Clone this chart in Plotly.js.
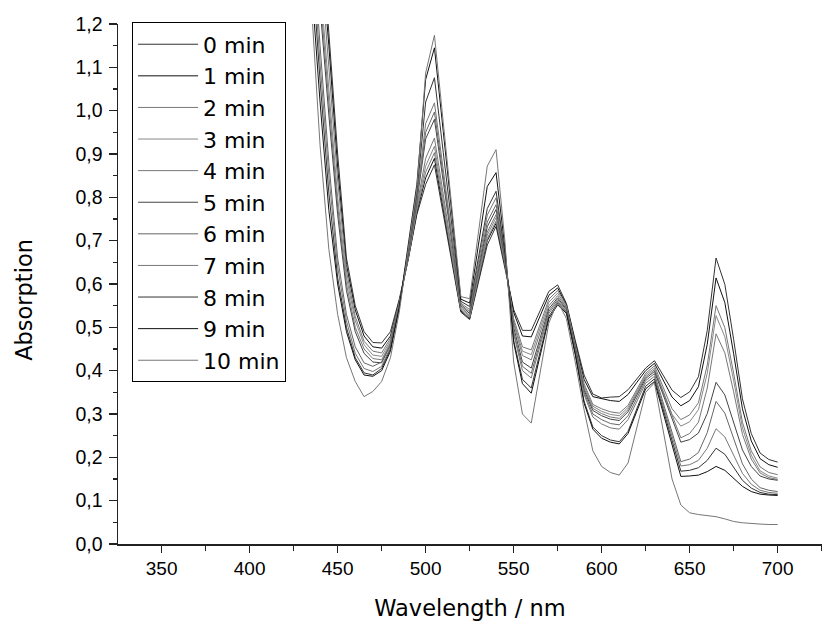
<!DOCTYPE html>
<html>
<head>
<meta charset="utf-8">
<script src="https://cdn.plot.ly/plotly-3.0.1.min.js"></script>
<style>html,body{margin:0;padding:0;background:#fff;}#chart{width:822px;height:626px;}</style>
</head>
<body>
<div id="chart"></div>
<script>
var wavelength = [435,440,445,450,455,460,465,470,475,480,485,490,495,500,505,510,515,520,525,530,535,540,545,550,555,560,565,570,575,580,585,590,595,600,605,610,615,620,625,630,635,640,645,650,655,660,665,670,675,680,685,690,695,700];

var labels = ["0 min","1 min","2 min","3 min","4 min","5 min","6 min","7 min","8 min","9 min","10 min"];

var a0 = [1.75,1.45,1.18,0.90,0.66,0.55,0.49,0.465,0.464,0.49,0.565,0.655,0.76,0.83,0.875,0.762,0.648,0.535,0.518,0.604,0.69,0.733,0.64,0.541,0.493,0.493,0.538,0.583,0.598,0.555,0.47,0.39,0.346,0.337,0.339,0.340,0.356,0.381,0.406,0.423,0.389,0.355,0.338,0.351,0.386,0.493,0.660,0.599,0.472,0.335,0.255,0.210,0.195,0.189];
var a1 = [1.70,1.40,1.15,0.87,0.645,0.54,0.48,0.455,0.452,0.48,0.56,0.655,0.765,0.845,0.89,0.773,0.655,0.538,0.52,0.61,0.70,0.740,0.645,0.535,0.48,0.478,0.526,0.574,0.591,0.552,0.465,0.38,0.34,0.335,0.331,0.329,0.345,0.373,0.40,0.417,0.378,0.339,0.319,0.331,0.363,0.461,0.614,0.557,0.439,0.312,0.238,0.197,0.183,0.177];
var a2 = [1.65,1.36,1.10,0.84,0.63,0.525,0.468,0.445,0.441,0.475,0.558,0.658,0.77,0.858,0.903,0.782,0.661,0.54,0.522,0.614,0.705,0.745,0.648,0.52,0.455,0.448,0.507,0.565,0.585,0.55,0.46,0.37,0.322,0.312,0.305,0.302,0.32,0.357,0.394,0.411,0.361,0.312,0.287,0.298,0.326,0.413,0.55,0.499,0.394,0.281,0.215,0.178,0.165,0.16];
var a3 = [1.58,1.30,1.05,0.80,0.615,0.515,0.46,0.436,0.433,0.47,0.555,0.66,0.775,0.872,0.918,0.793,0.668,0.543,0.525,0.619,0.713,0.753,0.652,0.515,0.445,0.437,0.498,0.558,0.579,0.547,0.457,0.365,0.318,0.306,0.299,0.296,0.315,0.353,0.39,0.406,0.352,0.299,0.272,0.282,0.31,0.394,0.527,0.478,0.377,0.268,0.205,0.169,0.157,0.152];
var a4 = [1.55,1.27,1.02,0.78,0.60,0.50,0.45,0.428,0.425,0.465,0.553,0.662,0.78,0.89,0.937,0.807,0.676,0.546,0.528,0.624,0.72,0.76,0.655,0.51,0.435,0.425,0.488,0.55,0.573,0.545,0.455,0.36,0.313,0.301,0.293,0.29,0.31,0.348,0.386,0.402,0.350,0.297,0.245,0.255,0.281,0.36,0.485,0.441,0.351,0.253,0.196,0.164,0.153,0.149];
var a5 = [1.52,1.24,0.99,0.76,0.585,0.49,0.44,0.42,0.418,0.46,0.55,0.665,0.79,0.935,0.98,0.837,0.693,0.55,0.532,0.632,0.732,0.772,0.66,0.50,0.42,0.406,0.475,0.543,0.568,0.542,0.452,0.355,0.308,0.296,0.288,0.285,0.305,0.344,0.382,0.398,0.344,0.289,0.235,0.241,0.256,0.301,0.373,0.344,0.283,0.217,0.179,0.157,0.150,0.147];
var a6 = [1.45,1.15,0.88,0.66,0.53,0.455,0.418,0.41,0.42,0.46,0.55,0.668,0.795,0.95,0.997,0.849,0.701,0.553,0.536,0.64,0.743,0.783,0.663,0.49,0.41,0.394,0.466,0.537,0.564,0.54,0.45,0.35,0.30,0.287,0.278,0.275,0.296,0.337,0.377,0.393,0.325,0.258,0.19,0.196,0.211,0.257,0.329,0.302,0.246,0.185,0.15,0.130,0.124,0.121];
var a7 = [1.40,1.11,0.85,0.64,0.515,0.44,0.405,0.398,0.41,0.455,0.548,0.67,0.80,0.97,1.018,0.864,0.71,0.556,0.541,0.65,0.759,0.799,0.668,0.485,0.40,0.383,0.458,0.532,0.56,0.537,0.447,0.345,0.293,0.277,0.268,0.265,0.287,0.329,0.371,0.387,0.318,0.249,0.18,0.183,0.193,0.221,0.266,0.247,0.206,0.163,0.138,0.124,0.119,0.117];
var a8 = [1.36,1.07,0.81,0.615,0.50,0.43,0.395,0.39,0.405,0.45,0.545,0.675,0.81,1.02,1.076,0.904,0.732,0.56,0.548,0.661,0.774,0.814,0.672,0.47,0.38,0.36,0.443,0.525,0.556,0.535,0.44,0.33,0.27,0.25,0.24,0.236,0.26,0.312,0.364,0.381,0.31,0.239,0.168,0.170,0.176,0.193,0.221,0.207,0.178,0.147,0.129,0.119,0.115,0.114];
var a9 = [1.30,1.02,0.77,0.60,0.49,0.425,0.39,0.387,0.40,0.445,0.545,0.685,0.83,1.072,1.145,0.952,0.758,0.565,0.556,0.69,0.825,0.857,0.685,0.465,0.37,0.348,0.434,0.52,0.552,0.532,0.437,0.325,0.265,0.244,0.235,0.231,0.255,0.307,0.358,0.375,0.302,0.229,0.156,0.157,0.159,0.167,0.179,0.170,0.152,0.133,0.121,0.115,0.113,0.112];
var a10 = [1.25,0.92,0.68,0.53,0.43,0.375,0.34,0.352,0.375,0.43,0.535,0.68,0.82,1.087,1.174,0.973,0.772,0.571,0.566,0.719,0.872,0.91,0.70,0.42,0.30,0.279,0.395,0.51,0.56,0.52,0.42,0.31,0.215,0.179,0.165,0.159,0.187,0.27,0.35,0.372,0.265,0.15,0.09,0.072,0.068,0.065,0.063,0.058,0.052,0.049,0.047,0.046,0.045,0.045];

var series = [a0,a1,a2,a3,a4,a5,a6,a7,a8,a9,a10];
var colors = ["#333333","#111111","#777777","#888888","#777777","#444444","#666666","#777777","#333333","#111111","#777777"];

var traces = series.map(function(s, i){
  return {
    x: wavelength, y: s, type: 'scatter', mode: 'lines', name: labels[i],
    line: {color: colors[i], width: 1}
  };
});

var tickFont = "'Liberation Sans', Arial, sans-serif";
var textFont = "'DejaVu Sans', 'Liberation Sans', sans-serif";
var layout = {
  width: 822, height: 626,
  margin: {l: 118, r: 0, t: 24, b: 82, pad: 0},
  paper_bgcolor: '#ffffff', plot_bgcolor: '#ffffff',
  separators: ',.',
  font: {family: tickFont, color: '#000000', size: 19},
  showlegend: true,
  legend: {
    x: 0.02, y: 1.003, xanchor: 'left', yanchor: 'top',
    bgcolor: '#ffffff', bordercolor: '#000000', borderwidth: 1,
    font: {family: textFont, size: 22, color: '#000000'},
    itemwidth: 60, tracegroupgap: 0, maxheight: 1
  },
  xaxis: {
    range: [325.2, 725.2], tick0: 350, dtick: 50, tickmode: 'linear',
    showline: true, linecolor: '#222222', linewidth: 1.5, mirror: false,
    showgrid: false, zeroline: false,
    ticks: 'outside', ticklen: 7, tickwidth: 1.5, tickcolor: '#222222',
    minor: {dtick: 25, tick0: 325, ticks: 'outside', ticklen: 5, tickwidth: 1.5, tickcolor: '#222222'},
    tickfont: {family: tickFont, size: 19, color: '#000000'},
    title: {text: 'Wavelength / nm', font: {family: textFont, size: 22.5, color: '#000000'}, standoff: 22}
  },
  yaxis: {
    range: [0, 1.2], tick0: 0, dtick: 0.1, tickmode: 'linear', tickformat: '.1f',
    showline: true, linecolor: '#222222', linewidth: 1.5, mirror: false,
    showgrid: false, zeroline: false,
    ticks: 'outside', ticklen: 8, tickwidth: 1.5, tickcolor: '#222222',
    minor: {dtick: 0.05, ticks: 'outside', ticklen: 4, tickwidth: 1.5, tickcolor: '#222222'},
    tickfont: {family: tickFont, size: 19.5, color: '#000000'},
    ticklabelstandoff: 2
  },
  annotations: [{
    text: 'Absorption', xref: 'paper', yref: 'paper', x: -0.1335, y: 0.4696,
    xanchor: 'center', yanchor: 'middle', textangle: -90, showarrow: false,
    font: {family: textFont, size: 22.5, color: '#000000'}
  }]
};

Plotly.newPlot('chart', traces, layout, {displayModeBar: false, staticPlot: true});
</script>
</body>
</html>
